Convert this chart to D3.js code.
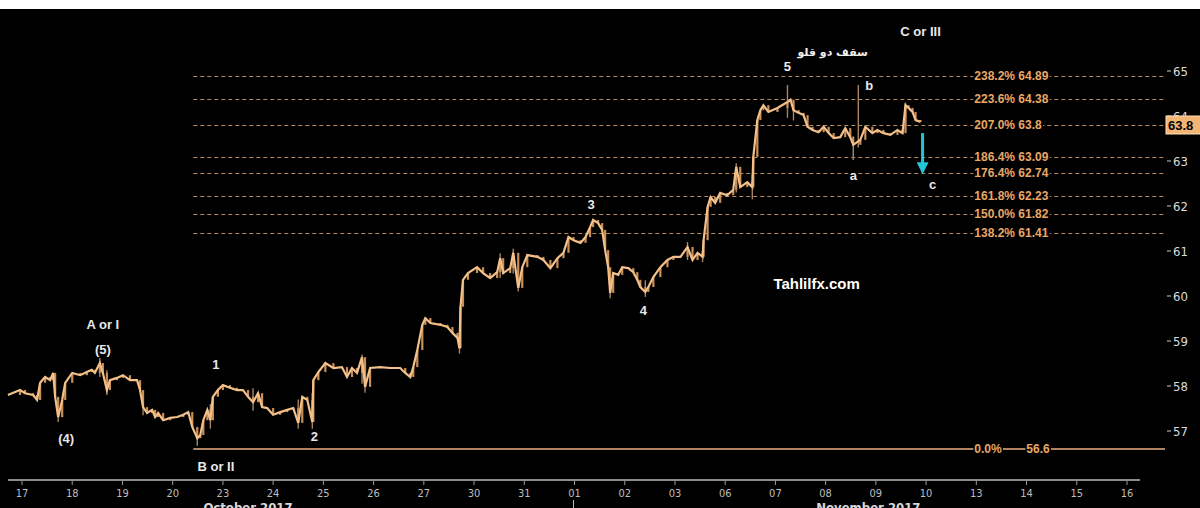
<!DOCTYPE html>
<html>
<head>
<meta charset="utf-8">
<script src="https://cdn.jsdelivr.net/npm/d3@7"></script>
<style>
body { margin: 0; background: #000; }
svg { display: block; }
</style>
</head>
<body>
<svg id="svg"></svg>
<script>
'use strict';

// ================================= data ======================================
var dayLabels = ["17", "18", "19", "20", "23", "24", "25", "26", "27", "30", "31",
    "01", "02", "03", "06", "07", "08", "09", "10", "13", "14", "15", "16"];

// time in trading days (0 = Oct 17), close price
var priceTimes = [-0.28, -0.04, 0.06, 0.22, 0.30, 0.36, 0.46, 0.56, 0.62, 0.66, 0.72, 0.80, 0.86, 1.00,
    1.16, 1.29, 1.39, 1.45, 1.55, 1.61, 1.69, 1.75, 1.89, 2.01, 2.15, 2.29, 2.35, 2.41, 2.49, 2.59,
    2.65, 2.71, 2.81, 2.95, 3.09, 3.21, 3.31, 3.39, 3.49, 3.55, 3.61, 3.69, 3.75, 3.80, 3.90, 4.00,
    4.14, 4.28, 4.40, 4.50, 4.60, 4.70, 4.78, 4.88, 5.00, 5.14, 5.28, 5.40, 5.50, 5.58, 5.68, 5.78,
    5.80, 5.90, 6.04, 6.20, 6.37, 6.47, 6.57, 6.67, 6.77, 6.83, 6.93, 7.13, 7.33, 7.53, 7.63, 7.73,
    7.79, 7.87, 7.97, 8.03, 8.13, 8.33, 8.47, 8.57, 8.67, 8.71, 8.73, 8.78, 8.88, 9.06, 9.18, 9.32,
    9.46, 9.52, 9.58, 9.72, 9.78, 9.88, 9.96, 10.06, 10.26, 10.38, 10.52, 10.66, 10.78, 10.88, 10.98,
    11.12, 11.22, 11.31, 11.37, 11.47, 11.55, 11.61, 11.67, 11.71, 11.77, 11.87, 11.95, 12.07, 12.17,
    12.25, 12.31, 12.41, 12.47, 12.57, 12.71, 12.85, 12.97, 13.11, 13.25, 13.35, 13.45, 13.55, 13.57,
    13.65, 13.71, 13.80, 13.90, 14.04, 14.16, 14.22, 14.30, 14.44, 14.54, 14.56, 14.64, 14.70, 14.76,
    14.86, 15.04, 15.24, 15.30, 15.36, 15.46, 15.56, 15.64, 15.74, 15.86, 15.96, 16.06, 16.16, 16.29,
    16.39, 16.49, 16.55, 16.69, 16.79, 16.93, 17.03, 17.15, 17.29, 17.43, 17.53, 17.59, 17.65, 17.73,
    17.79, 17.89];

var priceValues = [57.80, 57.91, 57.84, 57.80, 57.69, 58.07, 58.20, 58.13, 58.29, 57.76, 57.31, 57.69, 58.07, 58.29,
    58.24, 58.31, 58.36, 58.29, 58.51, 58.29, 57.91, 58.13, 58.18, 58.24, 58.13, 58.13, 57.91, 57.53, 57.40, 57.47,
    57.31, 57.40, 57.24, 57.29, 57.31, 57.36, 57.42, 57.09, 56.84, 56.91, 57.24, 57.47, 57.24, 57.76, 57.91, 58.02,
    57.96, 57.91, 57.91, 57.76, 57.64, 57.84, 57.53, 57.51, 57.36, 57.42, 57.47, 57.51, 57.18, 57.76, 57.69, 57.20,
    58.13, 58.31, 58.51, 58.40, 58.42, 58.20, 58.40, 58.29, 58.64, 57.98, 58.40, 58.42, 58.40, 58.40, 58.29, 58.20,
    58.42, 58.80, 59.36, 59.51, 59.40, 59.36, 59.31, 59.18, 59.07, 58.84, 59.76, 60.36, 60.51, 60.64, 60.51, 60.40,
    60.53, 60.84, 60.51, 60.62, 60.96, 60.18, 60.64, 60.91, 60.87, 60.80, 60.62, 60.84, 60.96, 61.31, 61.24,
    61.18, 61.31, 61.53, 61.69, 61.62, 61.47, 61.02, 60.64, 60.07, 60.51, 60.47, 60.64, 60.62, 60.53,
    60.36, 60.20, 60.09, 60.20, 60.42, 60.64, 60.80, 60.87, 60.87, 61.09, 60.80, 60.96, 60.87, 61.24,
    61.98, 62.20, 62.07, 62.29, 62.24, 62.36, 62.87, 62.42, 62.53, 62.42, 63.09, 63.91, 64.13, 64.24,
    64.09, 64.18, 64.31, 64.36, 64.13, 64.07, 64.02, 63.76, 63.69, 63.64, 63.76, 63.62, 63.51, 63.53,
    63.73, 63.53, 63.36, 63.47, 63.76, 63.62, 63.69, 63.62, 63.58, 63.69, 63.62, 64.24, 64.18, 64.09,
    63.91, 63.87];

// single bar extremes: [time, high, low]
var wicks = [[0.72, 57.75, 57.20], [1.55, 58.62, 58.20], [1.69, 58.35, 57.80], [2.41, 57.90, 57.35],
    [3.49, 57.05, 56.67], [3.75, 57.60, 57.05], [4.60, 57.95, 57.45], [5.50, 57.70, 57.05],
    [5.78, 57.85, 57.05], [6.77, 58.70, 58.05], [6.83, 58.45, 57.85], [8.71, 59.20, 58.72],
    [9.52, 60.95, 60.40], [9.78, 61.05, 60.50], [9.88, 60.70, 60.10], [11.71, 60.60, 59.95],
    [12.41, 60.35, 59.98], [13.25, 61.20, 60.80], [13.55, 61.00, 60.75], [14.22, 62.95, 62.30],
    [14.54, 62.70, 62.15], [15.24, 64.69, 63.96], [15.36, 64.30, 63.90], [16.55, 63.55, 63.02],
    [16.65, 64.69, 63.30], [17.59, 64.30, 63.70]];

var fibLabels = ["238.2%", "223.6%", "207.0%", "186.4%", "176.4%", "161.8%", "150.0%", "138.2%"];
var fibValues = [64.89, 64.38, 63.8, 63.09, 62.74, 62.23, 61.82, 61.41];
var fibBaseLabel = "0.0%";
var fibBaseValue = 56.6;
var fibStartTime = 3.41;

var yTicks = [57, 58, 59, 60, 61, 62, 63, 64, 65];
var lastPrice = 63.8;

// annotations: [text, time, price]
var waveLabels = [["C or III", 17.89, 65.89], ["5", 15.24, 65.11], ["b", 16.87, 64.69],
    ["a", 16.55, 62.67], ["c", 18.13, 62.49], ["3", 11.33, 62.04], ["4", 12.37, 59.69],
    ["A or I", 1.61, 59.36], ["(5)", 1.61, 58.82], ["1", 3.86, 58.49], ["(4)", 0.88, 56.84],
    ["2", 5.82, 56.89], ["B or II", 3.86, 56.22]];
var persianNote = ["سقف دو قلو", 16.14, 65.42];
var watermark = ["Tahlilfx.com", 15.82, 60.27];
var arrowFrom = [17.93, 63.62];
var arrowTo = [17.93, 62.76];

// ================================= setup ======================================
var width = 1200;
var height = 508;

var svg = d3.select("#svg")
    .attr("width", width)
    .attr("height", height);

svg.append("rect")
    .attr("width", width)
    .attr("height", height)
    .attr("fill", "#000");

// white strip above the picture
svg.append("rect")
    .attr("width", width)
    .attr("height", 9)
    .attr("fill", "#fff");

var x = d3.scaleLinear().domain([0, 22]).range([22, 1127]);
var y = d3.scaleLinear().domain([57, 65]).range([431, 71]);

var plotRight = 1165;
var labelFont = "'Liberation Sans', Arial, sans-serif";
var tan = "#e8a866";

// ================================= fibonacci ======================================
var fib = svg.append("g");

fibValues.forEach(function (v, i) {
    fib.append("line")
        .attr("x1", x(fibStartTime))
        .attr("x2", plotRight)
        .attr("y1", Math.round(y(v)) + 0.5)
        .attr("y2", Math.round(y(v)) + 0.5)
        .attr("stroke", "#b98a5e")
        .attr("stroke-width", 1)
        .attr("stroke-dasharray", "4,3");
    addLabel(fibLabels[i] + " " + v, x(19) - 2, y(v));
})

fib.append("line")
    .attr("x1", x(fibStartTime))
    .attr("x2", plotRight)
    .attr("y1", y(fibBaseValue))
    .attr("y2", y(fibBaseValue))
    .attr("stroke", "#b08463")
    .attr("stroke-width", 2);
addLabel(fibBaseLabel, x(19) - 2, y(fibBaseValue));
addLabel(String(fibBaseValue), x(19) + 50, y(fibBaseValue));

function addLabel(text, px, py) {
    var t = fib.append("text")
        .attr("x", px)
        .attr("y", py)
        .attr("dy", "0.35em")
        .attr("fill", tan)
        .attr("font-family", labelFont)
        .attr("font-weight", "bold")
        .attr("font-size", 12)
        .text(text);
    var b = t.node().getBBox();
    fib.insert("rect", function () { return t.node(); })
        .attr("x", b.x - 1)
        .attr("y", b.y)
        .attr("width", b.width + 2)
        .attr("height", b.height)
        .attr("fill", "#000");
}

// ================================= price ======================================
var line = d3.line()
    .x(function (d, i) { return x(priceTimes[i]); })
    .y(function (d) { return y(d); });

svg.append("g")
    .selectAll("line")
    .data(wicks)
    .join("line")
    .attr("x1", function (d) { return x(d[0]); })
    .attr("x2", function (d) { return x(d[0]); })
    .attr("y1", function (d) { return y(d[1]); })
    .attr("y2", function (d) { return y(d[2]); })
    .attr("stroke", "#a88462")
    .attr("stroke-width", 1.4);

// thin bars on every step
svg.append("g")
    .selectAll("line")
    .data(priceValues.slice(1))
    .join("line")
    .attr("x1", function (d, i) { return x(priceTimes[i + 1]); })
    .attr("x2", function (d, i) { return x(priceTimes[i + 1]); })
    .attr("y1", function (d, i) { return y(priceValues[i]); })
    .attr("y2", function (d) { return y(d); })
    .attr("stroke", "#c98f58")
    .attr("stroke-width", 2.2);

svg.append("path")
    .datum(priceValues)
    .attr("d", line)
    .attr("fill", "none")
    .attr("stroke", "#f3c08a")
    .attr("stroke-width", 2.2)
    .attr("stroke-linejoin", "miter");

// ================================= arrow ======================================
svg.append("defs").append("marker")
    .attr("id", "head")
    .attr("viewBox", "0 0 10 10")
    .attr("refX", 8)
    .attr("refY", 5)
    .attr("markerWidth", 4)
    .attr("markerHeight", 4)
    .attr("orient", "auto")
    .append("path")
    .attr("d", "M0,0L10,5L0,10Z")
    .attr("fill", "#22c6d6");

svg.append("line")
    .attr("x1", x(arrowFrom[0]))
    .attr("y1", y(arrowFrom[1]))
    .attr("x2", x(arrowTo[0]))
    .attr("y2", y(arrowTo[1]))
    .attr("stroke", "#22c6d6")
    .attr("stroke-width", 3)
    .attr("marker-end", "url(#head)");

// ================================= texts ======================================
svg.append("g")
    .selectAll("text")
    .data(waveLabels)
    .join("text")
    .attr("x", function (d) { return x(d[1]); })
    .attr("y", function (d) { return y(d[2]); })
    .attr("dy", "0.35em")
    .attr("text-anchor", "middle")
    .attr("fill", "#e8e8e8")
    .attr("font-family", labelFont)
    .attr("font-weight", "bold")
    .attr("font-size", 13)
    .text(function (d) { return d[0]; });

svg.append("text")
    .attr("x", x(persianNote[1]))
    .attr("y", y(persianNote[2]))
    .attr("dy", "0.35em")
    .attr("text-anchor", "middle")
    .attr("fill", "#f0f0f0")
    .attr("font-family", "'DejaVu Sans', sans-serif")
    .attr("font-weight", "bold")
    .attr("font-size", 11)
    .text(persianNote[0]);

svg.append("text")
    .attr("x", x(watermark[1]))
    .attr("y", y(watermark[2]))
    .attr("dy", "0.35em")
    .attr("text-anchor", "middle")
    .attr("fill", "#ffffff")
    .attr("font-family", labelFont)
    .attr("font-weight", "bold")
    .attr("font-size", 15)
    .text(watermark[0]);

// ================================= axes ======================================
var axisFont = "'DejaVu Sans Condensed', 'Liberation Sans Narrow', sans-serif";

var yAxis = svg.append("g");
yTicks.forEach(function (v) {
    yAxis.append("line")
        .attr("x1", 1167)
        .attr("x2", 1171)
        .attr("y1", y(v))
        .attr("y2", y(v))
        .attr("stroke", "#ccc");
    yAxis.append("text")
        .attr("x", 1173)
        .attr("y", y(v))
        .attr("dy", "0.38em")
        .attr("fill", "#dcdcdc")
        .attr("font-family", axisFont)
        .attr("font-size", 13)
        .text(v);
})

// last price tag
var tag = svg.append("g");
tag.append("rect")
    .attr("x", 1166)
    .attr("y", y(lastPrice) - 9)
    .attr("width", 36)
    .attr("height", 18)
    .attr("fill", "#f2b574")
    .attr("stroke", "#fde0b8")
    .attr("stroke-width", 1);
tag.append("text")
    .attr("x", 1168)
    .attr("y", y(lastPrice))
    .attr("dy", "0.36em")
    .attr("fill", "#000")
    .attr("font-family", labelFont)
    .attr("font-weight", "bold")
    .attr("font-size", 13)
    .text(lastPrice);

var xAxis = svg.append("g");
xAxis.append("line")
    .attr("x1", 8)
    .attr("x2", 1140)
    .attr("y1", 480)
    .attr("y2", 480)
    .attr("stroke", "#8c8c8c")
    .attr("stroke-width", 2);

xAxis.selectAll("line.tick")
    .data(dayLabels)
    .join("line")
    .attr("class", "tick")
    .attr("x1", function (d, i) { return x(i); })
    .attr("x2", function (d, i) { return x(i); })
    .attr("y1", 481)
    .attr("y2", 485)
    .attr("stroke", "#999");

xAxis.selectAll("text.day")
    .data(dayLabels)
    .join("text")
    .attr("class", "day")
    .attr("x", function (d, i) { return x(i); })
    .attr("y", 497)
    .attr("text-anchor", "middle")
    .attr("fill", "#bdbdbd")
    .attr("font-family", axisFont)
    .attr("font-size", 11)
    .text(function (d) { return d; });

// month divider under 01
xAxis.append("line")
    .attr("x1", x(11) - 1)
    .attr("x2", x(11) - 1)
    .attr("y1", 500)
    .attr("y2", 508)
    .attr("stroke", "#bbb");

xAxis.append("text")
    .attr("x", x(4.5))
    .attr("y", 512)
    .attr("text-anchor", "middle")
    .attr("fill", "#d8d8d8")
    .attr("font-family", axisFont)
    .attr("font-weight", "bold")
    .attr("font-size", 13)
    .text("October 2017");

xAxis.append("text")
    .attr("x", x(16.85))
    .attr("y", 512)
    .attr("text-anchor", "middle")
    .attr("fill", "#d8d8d8")
    .attr("font-family", axisFont)
    .attr("font-weight", "bold")
    .attr("font-size", 13)
    .text("November 2017");
</script>
</body>
</html>
